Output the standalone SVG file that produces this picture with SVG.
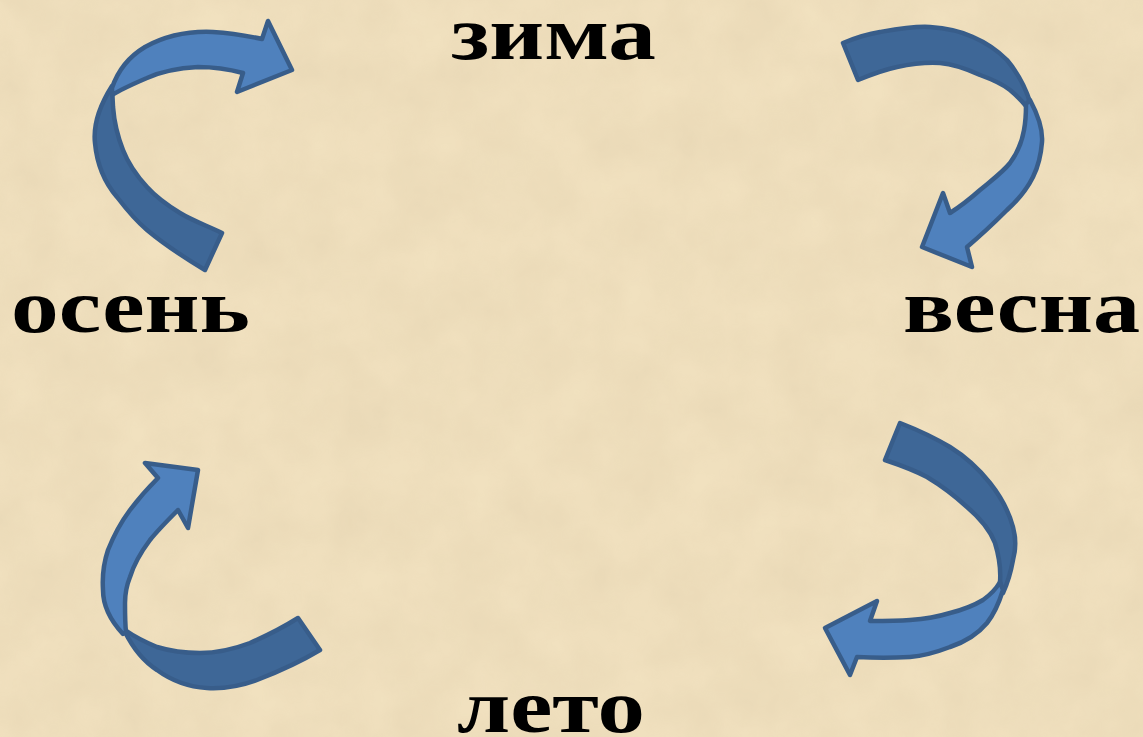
<svg xmlns="http://www.w3.org/2000/svg" width="1143" height="737" viewBox="0 0 1143 737">
<style>
.lbl{font-family:"Liberation Serif","Times New Roman",serif;font-weight:bold;font-size:77px;fill:#000}
.front{fill:#4f81bd;stroke:#385d8a;stroke-width:4.5;stroke-linejoin:round}
.back{fill:#3e6797;stroke:#385d8a;stroke-width:4.5;stroke-linejoin:round}
</style>
<defs>
<filter id="tex" x="0" y="0" width="100%" height="100%">
<feTurbulence type="fractalNoise" baseFrequency="0.018" numOctaves="4" seed="7" result="n"/>
<feColorMatrix in="n" type="matrix" values="0 0 0 0 0.62  0 0 0 0 0.5  0 0 0 0 0.32  0 0 0 0.6 -0.1"/>
</filter>
</defs>
<rect width="1143" height="737" fill="#f1e1bf"/>
<rect width="1143" height="737" filter="url(#tex)" opacity="0.45"/>
<g id="connectors">
<g id="arrow-winter-spring">
<path class="back" d="M843,43 C855,38 867,34 880,32 C897,29 913,26 930,27 C945,28 960,31 973,37 C987,43 998,51 1007,60 C1017,72 1025,86 1030,102 L1026,106 C1021,100 1016,95 1010,90 C1001,83 991,79 980,75 C967,69 953,64 940,63 C925,62 911,64 897,67 C883,70 870,75 858,80 Z"/>
<path class="front" d="M1030,100 C1038,115 1043,128 1042,142 C1041,155 1038,167 1033,177 C1026,191 1017,201 1007,210 C994,223 980,236 967,247 L972,267 L922,247 L943,193 L950,213 C961,206 971,198 980,190 C992,180 1003,172 1010,163 C1018,152 1022,142 1024,130 C1026,120 1026,112 1026,104 Z"/>
</g>
<g id="arrow-spring-summer">
<path class="back" d="M900,423 C918,430 935,438 950,447 C966,457 979,469 990,483 C1001,497 1009,512 1013,527 C1016,538 1016,549 1013,560 C1011,571 1008,582 1003,593 L1000,582 C1001,569 999,556 995,543 C990,530 980,518 967,507 C955,496 942,486 927,477 C914,470 900,465 885,460 Z"/>
<path class="front" d="M1003,590 C999,603 994,614 987,623 C977,635 965,642 950,647 C937,652 924,656 910,657 C892,658 875,658 857,657 L850,675 L825,628 L877,601 L870,621 C884,621 897,621 910,620 C924,619 937,617 950,613 C962,610 973,606 983,600 C990,595 996,589 1000,582 Z"/>
</g>
<g id="arrow-summer-autumn">
<path class="back" d="M125,632 C133,648 143,661 157,670 C172,681 190,687 207,688 C225,689 241,686 257,680 C280,671 300,662 320,650 L298,618 C282,628 266,636 250,643 C234,649 217,653 200,653 C184,653 170,651 157,647 C145,642 135,637 125,630 Z"/>
<path class="front" d="M123,634 C110,620 103,605 103,590 C102,575 104,562 108,550 C114,535 121,522 130,510 C139,498 148,488 158,478 L145,463 L198,470 L188,528 L178,510 C168,520 158,530 150,540 C141,552 134,564 130,577 C126,587 125,595 125,603 C125,613 125,623 126,632 Z"/>
</g>
<g id="arrow-autumn-winter">
<path class="back" d="M112,86 C100,105 93,125 95,143 C97,165 105,183 117,197 C127,210 135,220 147,230 C165,245 185,258 205,270 L222,233 C208,226 193,221 180,213 C167,205 156,197 147,187 C136,175 128,163 123,150 C117,135 114,120 113,107 L112,86 Z"/>
<path class="front" d="M112,88 C118,70 130,56 145,47 C165,36 190,31 213,32 C230,33 248,36 262,39 L268,21 L292,70 L237,92 L243,73 C228,69 213,67 198,67 C180,68 160,72 147,78 C133,84 120,90 112,95 Z"/>
</g>
</g>
<g id="node-winter"><text class="lbl" x="451" y="59" textLength="205" lengthAdjust="spacingAndGlyphs">зима</text></g>
<g id="node-autumn"><text class="lbl" x="11" y="332" textLength="239" lengthAdjust="spacingAndGlyphs">осень</text></g>
<g id="node-spring"><text class="lbl" x="903" y="332" textLength="237" lengthAdjust="spacingAndGlyphs">весна</text></g>
<g id="node-summer"><text class="lbl" x="457" y="732" textLength="188" lengthAdjust="spacingAndGlyphs">лето</text></g>
</svg>
